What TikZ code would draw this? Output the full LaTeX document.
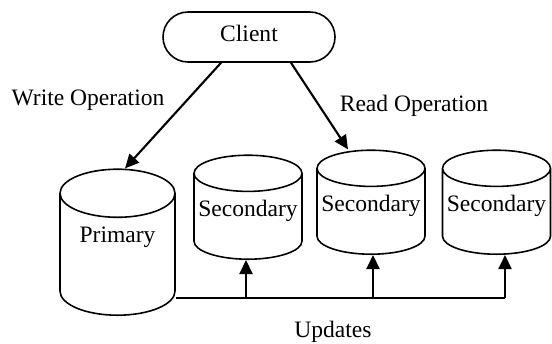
\documentclass[tikz,border=0pt]{standalone}
\usepackage{fontspec}
\setmainfont{Liberation Serif}
\usepackage{tikz}
\usetikzlibrary{arrows.meta,positioning,shapes.geometric}
\tikzset{
  blk/.style={draw, line width=.9pt, align=center, inner sep=2pt, font=\fontsize{13.4}{15}\selectfont},
  cli/.style={blk, rounded corners=.5cm, minimum width=3.44cm, minimum height=1cm, text depth=.16cm},
  db/.style={blk, cylinder, shape border rotate=90, aspect=.34, anchor=south, minimum width=2.16cm, minimum height=2.08cm, text depth=.45cm},
  ar/.style={-{Triangle[length=.28cm,width=.26cm]}, line width=1.2pt},
  bus/.style={line width=.9pt},
  lbl/.style={font=\fontsize{13.4}{15}\selectfont},
}
\begin{document}
\begin{tikzpicture}
  \useasboundingbox (0,0) rectangle (11.04,6.86);
  % client and databases
  \node[cli] (client) at (4.98,6.12) {Client};
  \node[db, aspect=.58, minimum width=2.3cm, minimum height=2.92cm, text depth=.97cm] (prim) at (2.35,.54) {Primary};
  \node[db] (sec1) at (4.96,1.66) {Secondary};
  \node[db] (sec2) at (7.42,1.76) {Secondary};
  \node[db] (sec3) at (9.93,1.76) {Secondary};
  % operations
  \draw[ar] ([xshift=-.56cm]client.south) -- ([xshift=.15cm]prim.north);
  \draw[ar] ([xshift=.84cm]client.south) -- ([xshift=-.46cm]sec2.north);
  \node[lbl] (wlab) at (1.76,4.86) {Write Operation};
  \node[lbl] (rlab) at (8.28,4.74) {Read Operation};
  % update bus
  \coordinate (b0) at (prim.east |- 0,.9);
  \coordinate (b1) at (4.92,.9);
  \coordinate (b2) at (7.46,.9);
  \coordinate (b3) at (10.1,.9);
  \draw[bus] (b0) -- (b3);
  \foreach \k in {1,2,3}{
    \draw[ar] (b\k) -- (b\k |- sec\k.south);
  }
  \node[lbl] (upd) at (6.66,.22) {Updates};
\end{tikzpicture}
\end{document}
